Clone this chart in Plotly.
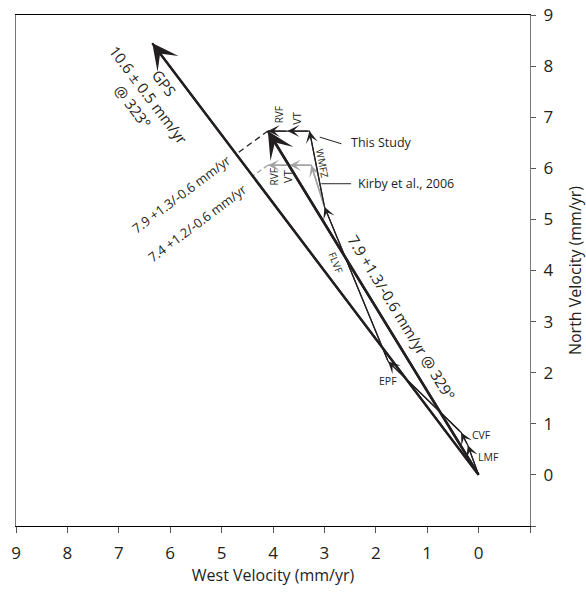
import plotly.graph_objects as go

# ---------------- data (mm/yr, West positive, North positive) ----------------
gps_x = [0.0, 6.35]
gps_y = [0.0, 8.45]

result_x = [0.0, 4.10]
result_y = [0.0, 6.73]

study_names = ["LMF", "CVF", "EPF", "FLVF", "WMFZ", "VT", "RVF"]
study_x = [0.0, 0.21, 0.34, 1.76, 3.00, 3.29, 3.72, 4.10]
study_y = [0.0, 0.58, 0.83, 2.22, 5.25, 6.73, 6.73, 6.73]

kirby_names = ["WMFZ", "VT", "RVF"]
kirby_x = [3.00, 3.255, 3.68, 4.10]
kirby_y = [5.25, 6.06, 6.06, 6.06]

# perpendicular projection of the two resultants onto the GPS vector
proj_study_x = [4.10, 4.714]
proj_study_y = [6.73, 6.280]
proj_kirby_x = [4.10, 4.392]
proj_kirby_y = [6.06, 5.851]

x_ticks = [9, 8, 7, 6, 5, 4, 3, 2, 1, 0, -1]
x_ticktext = ["9", "8", "7", "6", "5", "4", "3", "2", "1", "0", ""]
y_ticks = [-1, 0, 1, 2, 3, 4, 5, 6, 7, 8, 9]
y_ticktext = ["", "0", "1", "2", "3", "4", "5", "6", "7", "8", "9"]

BLACK = "#231f20"
GRAY = "#a3a3a3"
FONT = "Open Sans"

fig = go.Figure()

# lines
fig.add_trace(go.Scatter(x=kirby_x, y=kirby_y, mode="lines",
                         line=dict(color=GRAY, width=1.5), hoverinfo="skip"))
fig.add_trace(go.Scatter(x=proj_kirby_x, y=proj_kirby_y, mode="lines",
                         line=dict(color=GRAY, width=1.3, dash="5px,3px"), hoverinfo="skip"))
fig.add_trace(go.Scatter(x=proj_study_x, y=proj_study_y, mode="lines",
                         line=dict(color=BLACK, width=1.3, dash="6px,4px"), hoverinfo="skip"))
fig.add_trace(go.Scatter(x=gps_x, y=gps_y, mode="lines",
                         line=dict(color=BLACK, width=2.3), hoverinfo="skip"))
fig.add_trace(go.Scatter(x=result_x, y=result_y, mode="lines",
                         line=dict(color=BLACK, width=2.5), hoverinfo="skip"))
fig.add_trace(go.Scatter(x=study_x, y=study_y, mode="lines",
                         line=dict(color=BLACK, width=1.25), hoverinfo="skip"))

ann = []

def arrow(x0, y0, x1, y1, color, width, size):
    ann.append(dict(x=x1, y=y1, ax=x0, ay=y0, xref="x", yref="y",
                    axref="x", ayref="y", text="", showarrow=True,
                    arrowhead=3, arrowsize=size, arrowwidth=width,
                    arrowcolor=color))

# Kirby arrowheads (gray)
for i in range(len(kirby_names)):
    arrow(kirby_x[i], kirby_y[i], kirby_x[i + 1], kirby_y[i + 1], GRAY, 1.5, 1.3)
# This study arrowheads
for i in range(len(study_names)):
    arrow(study_x[i], study_y[i], study_x[i + 1], study_y[i + 1], BLACK, 1.25, 1.6)
# GPS and resultant
arrow(gps_x[0], gps_y[0], gps_x[1], gps_y[1], BLACK, 2.3, 1.9)
arrow(result_x[0], result_y[0], result_x[1], result_y[1], BLACK, 2.5, 1.8)

def label(x, y, text, size=10, angle=0, xanchor="center", color=BLACK):
    ann.append(dict(x=x, y=y, xref="x", yref="y", text=text, showarrow=False,
                    textangle=angle, xanchor=xanchor, yanchor="middle",
                    font=dict(family=FONT, size=size, color=color)))

# fault labels
label(-0.19, 0.36, "LMF", size=10.5)
label(-0.06, 0.79, "CVF", size=10.5)
label(1.76, 1.84, "EPF", size=10.5)
label(2.77, 4.15, "FLVF", angle=68)
label(3.04, 6.10, "WMFZ", angle=79)
label(3.89, 7.05, "RVF", angle=-90)
label(3.54, 6.98, "VT", angle=-90, size=11)
label(4.00, 5.82, "RVF", angle=-90)
label(3.71, 5.85, "VT", angle=-90, size=11)

# magnitude labels
label(6.42, 7.45, "GPS<br>10.6 ± 0.5 mm/yr<br>@ 323°", size=15, angle=53)
label(5.78, 5.49, "7.9 +1.3/-0.6 mm/yr", size=13, angle=-37)
label(5.47, 4.92, "7.4 +1.2/-0.6 mm/yr", size=13, angle=-37)
label(1.50, 3.09, "7.9 +1.3/-0.6 mm/yr @ 329°", size=15, angle=58.5)

# legend-like callouts
label(2.53, 6.51, "This Study", size=12.5, xanchor="left")
label(2.38, 5.70, "Kirby et al., 2006", size=12.5, xanchor="left")
fig.add_trace(go.Scatter(x=[3.09, 2.67], y=[6.61, 6.48], mode="lines",
                         line=dict(color=BLACK, width=1), hoverinfo="skip"))
fig.add_trace(go.Scatter(x=[3.06, 2.48], y=[5.70, 5.70], mode="lines",
                         line=dict(color="#555555", width=1.3), hoverinfo="skip"))

fig.update_layout(
    width=586, height=593,
    margin=dict(l=16, r=56, t=15, b=67),
    plot_bgcolor="white", paper_bgcolor="white",
    showlegend=False,
    font=dict(family=FONT, color=BLACK),
    annotations=ann,
    xaxis=dict(range=[9, -1], tickvals=x_ticks, ticktext=x_ticktext,
               ticks="outside", ticklen=6, tickwidth=1, tickcolor="#555555",
               ticklabelstandoff=6, automargin=False,
               showline=True, linecolor="black", linewidth=1, mirror=True,
               showgrid=False, zeroline=False,
               tickfont=dict(family=FONT, size=17, color=BLACK),
               title=dict(text="West Velocity (mm/yr)", standoff=4,
                          font=dict(family=FONT, size=16, color=BLACK))),
    yaxis=dict(range=[-1, 9], side="right", tickvals=y_ticks, ticktext=y_ticktext,
               ticks="outside", ticklen=5, tickwidth=1, tickcolor="#555555",
               ticklabelstandoff=4, automargin=False,
               showline=True, linecolor="#777777", linewidth=1.3, mirror=True,
               showgrid=False, zeroline=False,
               tickfont=dict(family=FONT, size=17, color=BLACK),
               title=dict(text="North Velocity (mm/yr)", standoff=18,
                          font=dict(family=FONT, size=16, color=BLACK))),
)

fig.write_html("out.html")
